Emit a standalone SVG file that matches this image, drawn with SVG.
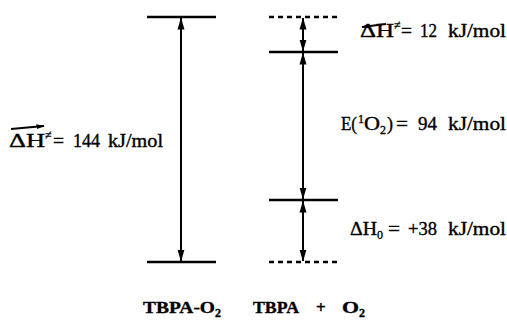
<svg xmlns="http://www.w3.org/2000/svg" width="507" height="320" viewBox="0 0 507 320">
<style>
.lvl{stroke:#000;stroke-width:2.4;fill:none}
.dash{stroke:#000;stroke-width:2.4;fill:none;stroke-dasharray:5 4}
.arr{stroke:#000;stroke-width:2;fill:none;marker-start:url(#ah);marker-end:url(#ah)}
text{font-family:"Liberation Serif","Times New Roman","DejaVu Serif",serif;fill:#000;stroke:#000;stroke-width:0.35}
.t{font-size:18px}
.b{font-size:17px;font-weight:bold}
.sm{font-size:12px}
.ov{stroke:#000;stroke-width:1.8;fill:none}
</style>
<defs>
<marker id="ah" viewBox="0 0 12 8" refX="11.5" refY="4" markerWidth="12" markerHeight="8" markerUnits="userSpaceOnUse" orient="auto-start-reverse">
<path d="M0,0.5 L12,4 L0,7.5 Z" fill="#000"/>
</marker>
<marker id="oh" viewBox="0 0 8 5" refX="7.5" refY="2.5" markerWidth="8" markerHeight="5" markerUnits="userSpaceOnUse" orient="auto">
<path d="M0,0 L8,2.5 L0,5 Z" fill="#000"/>
</marker>
</defs>
<g id="levels">
<g id="complex-top"><line class="lvl" x1="147" y1="17" x2="216" y2="17"/></g>
<g id="complex-bottom"><line class="lvl" x1="147" y1="262" x2="216" y2="262"/></g>
<g id="ts-dashed"><line class="dash" x1="269" y1="17" x2="338" y2="17"/></g>
<g id="singlet-level"><line class="lvl" x1="269" y1="52" x2="338" y2="52"/></g>
<g id="triplet-level"><line class="lvl" x1="269" y1="200" x2="338" y2="200"/></g>
<g id="base-dashed"><line class="dash" x1="269" y1="262" x2="338" y2="262"/></g>
</g>
<g id="connectors">
<line class="arr" x1="181" y1="18" x2="181" y2="261"/>
<line class="arr" x1="303" y1="18" x2="303" y2="51"/>
<line class="arr" x1="303" y1="53" x2="303" y2="199"/>
<line class="arr" x1="303" y1="201" x2="303" y2="261"/>
</g>
<g id="label-144">
<line class="ov" x1="11" y1="129" x2="44" y2="126" marker-end="url(#oh)"/>
<text class="t" x="9" y="147" textLength="36" lengthAdjust="spacingAndGlyphs">ΔH</text>
<text class="sm" x="45" y="139">≠</text>
<text class="t" x="53" y="147" textLength="11" lengthAdjust="spacingAndGlyphs">=</text>
<text class="t" x="73" y="147" textLength="27" lengthAdjust="spacingAndGlyphs">144</text>
<text class="t" x="108" y="147" textLength="55" lengthAdjust="spacingAndGlyphs">kJ/mol</text>
</g>
<g id="label-12">
<line class="ov" x1="386" y1="24" x2="362" y2="27" marker-end="url(#oh)"/>
<text class="t" x="360" y="37" textLength="34" lengthAdjust="spacingAndGlyphs">ΔH</text>
<text class="sm" x="394" y="29">≠</text>
<text class="t" x="401" y="37" textLength="11" lengthAdjust="spacingAndGlyphs">=</text>
<text class="t" x="420" y="37" textLength="17" lengthAdjust="spacingAndGlyphs">12</text>
<text class="t" x="448" y="37" textLength="58" lengthAdjust="spacingAndGlyphs">kJ/mol</text>
</g>
<g id="label-94">
<text class="t" x="341" y="130" textLength="16" lengthAdjust="spacingAndGlyphs">E(</text>
<text class="sm" x="358" y="123">1</text>
<text class="t" x="364" y="130" textLength="16" lengthAdjust="spacingAndGlyphs">O</text>
<text class="sm" x="380" y="134">2</text>
<text class="t" x="387" y="130">)</text>
<text class="t" x="396" y="130" textLength="12" lengthAdjust="spacingAndGlyphs">=</text>
<text class="t" x="418" y="130" textLength="19" lengthAdjust="spacingAndGlyphs">94</text>
<text class="t" x="448" y="130" textLength="58" lengthAdjust="spacingAndGlyphs">kJ/mol</text>
</g>
<g id="label-38">
<text class="t" x="350" y="235" textLength="27" lengthAdjust="spacingAndGlyphs">ΔH</text>
<text class="sm" x="377" y="239">0</text>
<text class="t" x="388" y="235" textLength="12" lengthAdjust="spacingAndGlyphs">=</text>
<text class="t" x="408" y="235" textLength="29" lengthAdjust="spacingAndGlyphs">+38</text>
<text class="t" x="448" y="235" textLength="58" lengthAdjust="spacingAndGlyphs">kJ/mol</text>
</g>
<g id="label-complex">
<text class="b" x="143" y="313" textLength="72" lengthAdjust="spacingAndGlyphs">TBPA-O</text>
<text class="b sm" x="215" y="317">2</text>
</g>
<g id="label-separated">
<text class="b" x="253" y="313" textLength="46" lengthAdjust="spacingAndGlyphs">TBPA</text>
<text class="b" x="316" y="313">+</text>
<text class="b" x="342" y="313" textLength="17" lengthAdjust="spacingAndGlyphs">O</text>
<text class="b sm" x="359" y="317">2</text>
</g>
</svg>
